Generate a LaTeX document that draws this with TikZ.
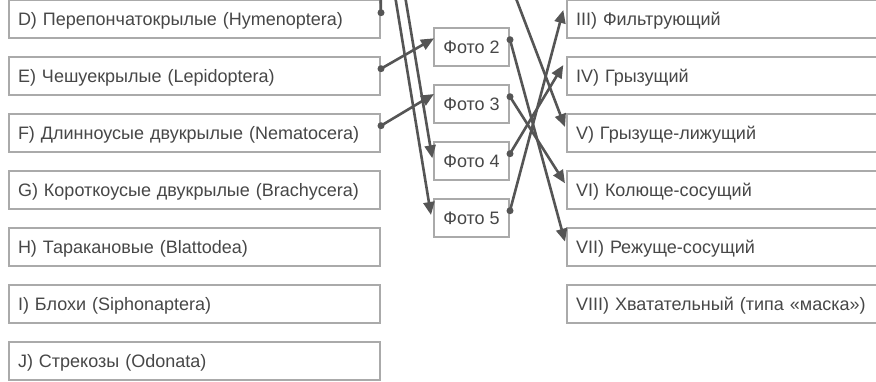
\documentclass[tikz,border=0pt]{standalone}
\usepackage{fontspec}
\setmainfont{Liberation Sans}
\usetikzlibrary{arrows.meta,calc}
\definecolor{txt}{HTML}{474747}
\definecolor{brd}{HTML}{AAAAAA}
\definecolor{lnk}{HTML}{555555}
\tikzset{
  basebox/.style={draw=brd, line width=2pt, rectangle, minimum height=38pt,
    inner ysep=0pt, inner xsep=9pt, text=txt, font=\fontsize{18}{20}\selectfont,
    text height=14pt, text depth=0pt},
  lbox/.style={basebox, text width=353pt, align=left, anchor=west},
  rbox/.style={basebox, text width=316pt, align=left, anchor=west},
  fbox/.style={basebox, minimum width=75pt, inner xsep=0pt, anchor=center},
  link/.style={draw=lnk, line width=2.6pt, -{Triangle[length=13pt,width=11pt]}},
  plain link/.style={draw=lnk, line width=2.6pt},
  dot/.style={fill=lnk}
}
\begin{document}
\begin{tikzpicture}[x=1pt,y=-1pt]
\useasboundingbox (0,0) rectangle (876,381);
\clip (0,0) rectangle (876,381);
\fill[white] (0,0) rectangle (876,381);

% left boxes
\node[lbox] (D) at (8,18.7)  {D) Перепончатокрылые (Hymenoptera)};
\node[lbox] (E) at (8,75.7)  {E) Чешуекрылые (Lepidoptera)};
\node[lbox] (F) at (8,132.7) {F) Длинноусые двукрылые (Nematocera)};
\node[lbox] (G) at (8,189.7) {G) Короткоусые двукрылые (Brachycera)};
\node[lbox] (H) at (8,246.7) {H) Таракановые (Blattodea)};
\node[lbox] (I) at (8,303.7) {I) Блохи (Siphonaptera)};
\node[lbox] (J) at (8,360.7) {J) Стрекозы (Odonata)};

% photo boxes
\node[fbox] (f2) at (471.5,46.7)  {Фото 2};
\node[fbox] (f3) at (471.5,103.7) {Фото 3};
\node[fbox] (f4) at (471.5,160.7) {Фото 4};
\node[fbox] (f5) at (471.5,217.7) {Фото 5};

% right boxes
\node[rbox] (r3) at (566,18.7)  {III) Фильтрующий};
\node[rbox] (r4) at (566,75.7)  {IV) Грызущий};
\node[rbox] (r5) at (566,132.7) {V) Грызуще-лижущий};
\node[rbox] (r6) at (566,189.7) {VI) Колюще-сосущий};
\node[rbox] (r7) at (566,246.7) {VII) Режуще-сосущий};
\node[rbox] (r8) at (566,303.7) {VIII) Хватательный (типа «маска»)};

% off-picture ends
\coordinate (a)   at (379,-159);
\coordinate (b)   at (379,-102);
\coordinate (dup) at (379,-80);
\coordinate (f1)  at (510,-17.3);

% start points
\coordinate (dD) at ($(D.east)+(0,-6)$);
\coordinate (dE) at ($(E.east)+(0,-7)$);
\coordinate (dF) at ($(F.east)+(0,-7)$);
\coordinate (d2) at ($(f2.east)+(0,-7)$);
\coordinate (d3) at ($(f3.east)+(0,-7)$);
\coordinate (d4) at ($(f4.east)+(0,-7)$);
\coordinate (d5) at ($(f5.east)+(0,-7)$);

% connectors
\draw[plain link] (dD) -- (dup);
\draw[link] (dE) -- ($(f2.west)+(1,-8.4)$);
\draw[link] (dF) -- ($(f3.west)+(1,-9.7)$);
\draw[link] (a)  -- ($(f4.west)+(-0.7,-2.4)$);
\draw[link] (b)  -- ($(f5.west)+(-2,-2.7)$);
\draw[link] (f1) -- ($(r5.west)+(-1,-5.7)$);
\draw[link] (d2) -- ($(r7.west)+(-1,-5)$);
\draw[link] (d3) -- ($(r6.west)+(-1,-6.4)$);
\draw[link] (d4) -- ($(r4.west)+(-2.7,-10.7)$);
\draw[link] (d5) -- ($(r3.west)+(-2.7,-8.7)$);

% dots
\foreach \p in {dD,dE,dF,d2,d3,d4,d5}{\fill[dot] (\p) circle (3.5pt);}
\end{tikzpicture}
\end{document}
